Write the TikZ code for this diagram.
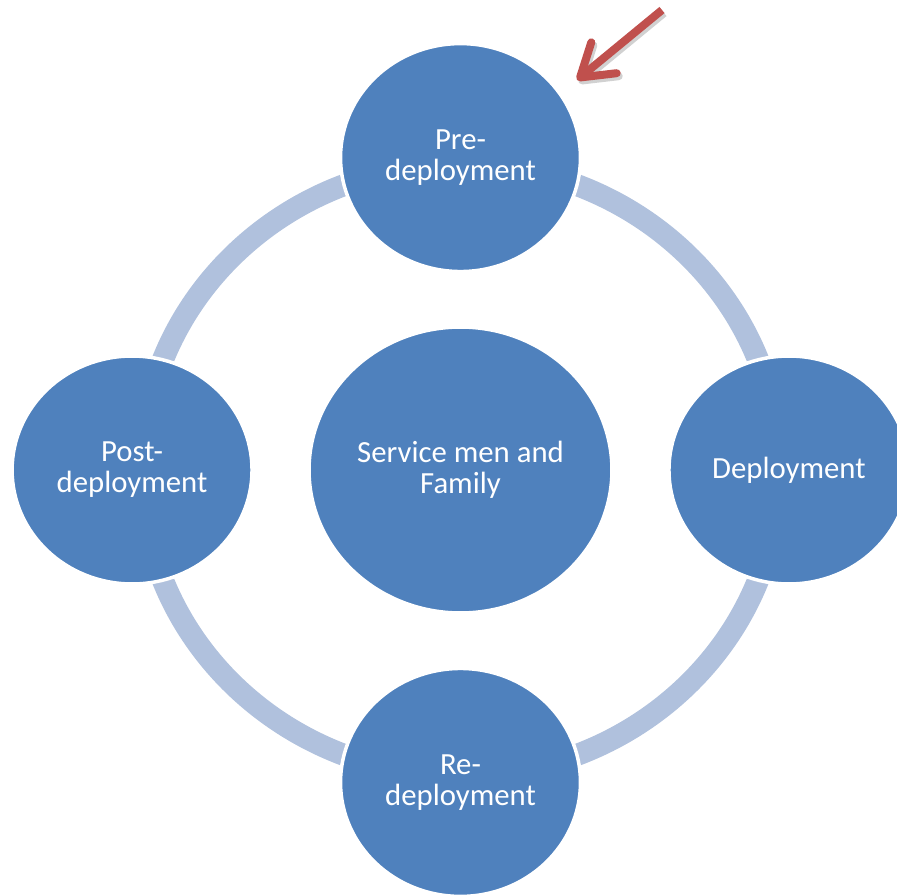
\documentclass[tikz,border=0pt]{standalone}
\usepackage{fontspec}
\setmainfont{Carlito}
\usetikzlibrary{shapes.geometric,arrows.meta}
\definecolor{phaseblue}{RGB}{79,129,189}
\definecolor{ringblue}{RGB}{176,193,221}
\definecolor{arrowred}{RGB}{192,80,77}

\begin{document}
\begin{tikzpicture}[x=0.02cm,y=-0.02cm,node distance=6.25cm]
                \tikzstyle{every node}= [ellipse,fill=phaseblue,draw=white,line width=0.07cm,inner sep=0pt,minimum width=4.8cm,minimum height=4.56cm,text=white,align=center,font=\fontsize{17.5}{17.6}\selectfont]
                \path [use as bounding box,clip] (0,0) rectangle (897,896);
                \coordinate (c) at (460.5,470);
                % ring behind the phases
                \draw [ringblue,line width=0.44cm] (c) ellipse [x radius=6.38cm,y radius=6.12cm];

                \node (fam) at (c) [minimum width=6.06cm,minimum height=5.72cm] {Service men and\\Family};
                \node (pre) [above of=fam] {Pre-\\deployment};
                \node (re) [below of=fam] {Re-\\deployment};
                \node (post) [left of=fam,node distance=6.57cm] {Post-\\deployment};
                \node (dep) [right of=fam,node distance=6.57cm] {Deployment};

                \coordinate (tail) at (662,10);
                \coordinate (tip) at (577,80);
                \draw [black!18,line width=0.16cm,-{Straight Barb[length=0.62cm,width=0.8cm,round]}]
                        ([xshift=0.04cm,yshift=-0.06cm]tail) -- ([xshift=0.04cm,yshift=-0.06cm]tip);
                \draw [arrowred,line width=0.16cm,-{Straight Barb[length=0.62cm,width=0.8cm,round]}] (tail) -- (tip);
\end{tikzpicture}
\end{document}
